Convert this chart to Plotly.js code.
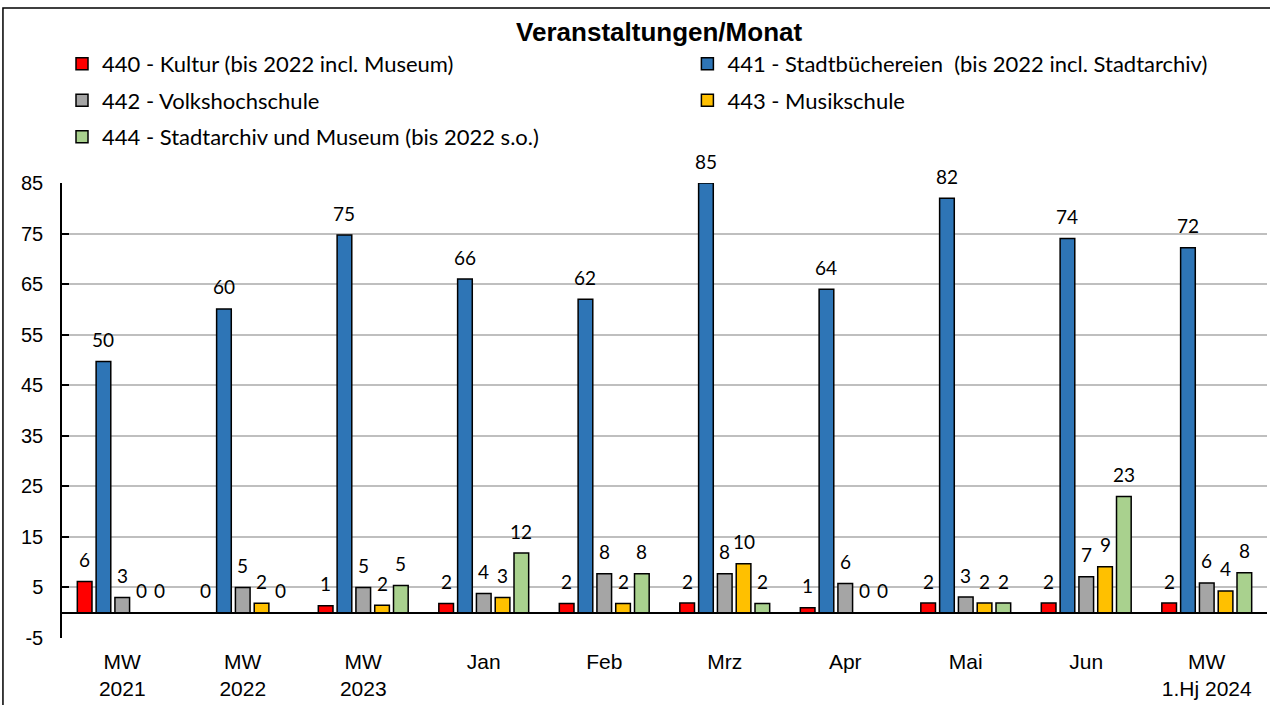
<!DOCTYPE html>
<html>
<head>
<meta charset="utf-8">
<script src="https://cdn.plot.ly/plotly-3.0.1.min.js"></script>
<style>html,body{margin:0;padding:0;background:#fff;}#chart{width:1270px;height:705px;}</style>
</head>
<body>
<div id="chart"></div>
<script>
// Categories (x axis)
var categories = ["MW<br>2021", "MW<br>2022", "MW<br>2023", "Jan", "Feb", "Mrz", "Apr", "Mai", "Jun", "MW<br>1.Hj 2024"];

// Series values
var kultur440       = [6.2, 0,    1.4,  1.8, 1.8, 1.9, 1.0, 1.9, 1.9, 1.9];
var buechereien441  = [49.7, 60.1, 74.7, 66, 62, 85, 64, 82, 74, 72.2];
var vhs442          = [3.0, 5.0,  5.0,  3.8, 7.7, 7.7, 5.8, 3.1, 7.1, 5.9];
var musik443        = [0,   1.85, 1.5,  3.0, 1.8, 9.7, 0,   1.9, 9.1, 4.3];
var archiv444       = [0,   0,    5.4,  11.8, 7.7, 1.8, 0,  1.9, 23.0, 7.9];

var seriesNames = [
  "440 - Kultur (bis 2022 incl. Museum)",
  "441 - Stadtbüchereien  (bis 2022 incl. Stadtarchiv)",
  "442 - Volkshochschule",
  "443 - Musikschule",
  "444 - Stadtarchiv und Museum (bis 2022 s.o.)"
];
var seriesValues = [kultur440, buechereien441, vhs442, musik443, archiv444];
var seriesColors = ["#FF0000", "#2E75B6", "#A5A5A5", "#FFC000", "#A9D18E"];
var seriesLegend = ["legend", "legend2", "legend", "legend2", "legend"];

// Y axis ticks
var yTicks = [-5, 5, 15, 25, 35, 45, 55, 65, 75, 85];

var W = 1270, H = 705;
var M = {l: 62, r: 3, t: 183, b: 67, pad: 0};
var BARGAP = 0.22, BARGROUPGAP = 0.22;

var labelFont = {family: "Lato, 'Open Sans', sans-serif", size: 19, color: "#000"};
var axisFont = {family: "'Liberation Sans', Arial, sans-serif", size: 20, color: "#000"};
var legendFont = {family: "Lato, 'Open Sans', sans-serif", size: 22, color: "#000"};

var traces = seriesNames.map(function(name, i) {
  return {
    type: "bar",
    name: name,
    x: categories,
    y: seriesValues[i],
    legend: seriesLegend[i],
    legendgroup: "g" + i,
    marker: {color: seriesColors[i], line: {color: "#000", width: 1.5}},
    hoverinfo: "x+y+name"
  };
});

// Value labels placed above each bar (slot offset within the group, from the bar layout)
var nSeries = seriesNames.length;
var catPx = (W - M.l - M.r) / categories.length;
var slotPx = catPx * (1 - BARGAP) / nSeries;
var annotations = [];
seriesValues.forEach(function(vals, i) {
  vals.forEach(function(v, j) {
    annotations.push({
      x: categories[j], y: v, xref: "x", yref: "y",
      text: String(Math.round(v)),
      showarrow: false,
      xanchor: "center", yanchor: "middle",
      xshift: (i - (nSeries - 1) / 2) * slotPx,
      yshift: 22,
      font: labelFont
    });
  });
});

var layout = {
  width: W,
  height: H,
  paper_bgcolor: "#fff",
  plot_bgcolor: "#fff",
  margin: M,
  barmode: "group",
  bargap: BARGAP,
  bargroupgap: BARGROUPGAP,
  showlegend: true,
  title: {
    text: "<b>Veranstaltungen/Monat</b>",
    font: {family: "'Liberation Sans', Arial, sans-serif", size: 26, color: "#000"},
    x: 0.519, xanchor: "center",
    y: 0.9546, yanchor: "middle", yref: "container"
  },
  legend: {
    x: 0.0, xanchor: "left", y: 1.308, yanchor: "top",
    orientation: "v",
    font: legendFont,
    tracegroupgap: 5,
    bgcolor: "rgba(0,0,0,0)",
    itemclick: false, itemdoubleclick: false
  },
  legend2: {
    x: 0.519, xanchor: "left", y: 1.308, yanchor: "top",
    orientation: "v",
    font: legendFont,
    tracegroupgap: 5,
    bgcolor: "rgba(0,0,0,0)",
    itemclick: false, itemdoubleclick: false
  },
  xaxis: {
    type: "category",
    showline: false,
    showgrid: false,
    ticks: "",
    tickfont: {family: "'Liberation Sans', Arial, sans-serif", size: 21, color: "#000"},
    ticklabelstandoff: 9,
    automargin: false
  },
  yaxis: {
    range: [-5, 85],
    tickvals: yTicks,
    ticktext: yTicks.map(String),
    tickfont: axisFont,
    ticklabelstandoff: 13,
    showgrid: true,
    gridcolor: "#BFBFBF",
    gridwidth: 1.5,
    zeroline: true,
    zerolinecolor: "#000",
    zerolinewidth: 2,
    showline: true,
    linecolor: "#000",
    linewidth: 1.5,
    ticks: "inside",
    ticklen: 7,
    tickwidth: 1.5,
    tickcolor: "#000",
    automargin: false
  },
  annotations: annotations,
  shapes: [{
    type: "rect", xref: "paper", yref: "paper",
    x0: -0.049, x1: 1.01, y0: -0.16, y1: 1.3846,
    line: {color: "#000", width: 1.5},
    fillcolor: "rgba(0,0,0,0)"
  }]
};

Plotly.newPlot("chart", traces, layout, {displayModeBar: false});
</script>
</body>
</html>
